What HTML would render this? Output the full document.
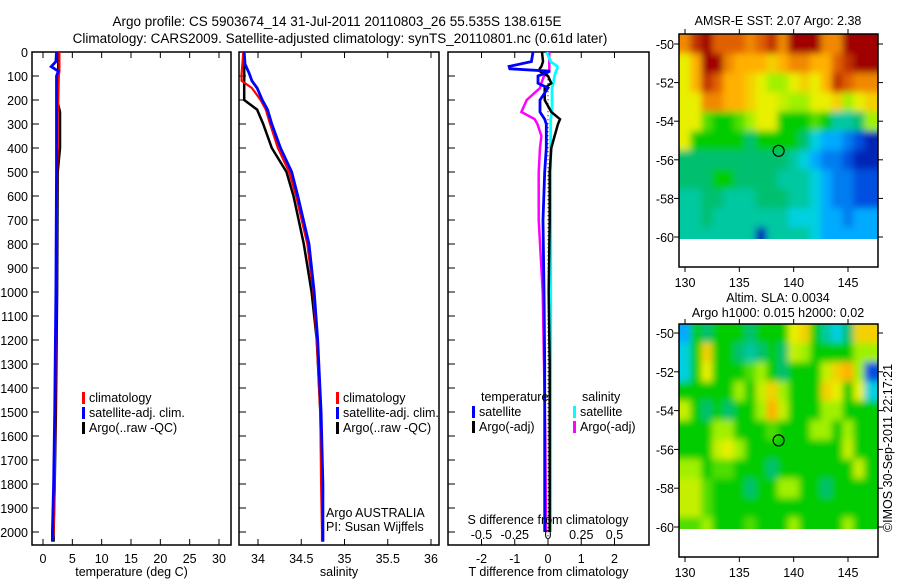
<!DOCTYPE html>
<html><head><meta charset="utf-8">
<style>
html,body{margin:0;padding:0;background:#fff;}
svg{display:block;font-family:"Liberation Sans",sans-serif;}
text{fill:#000;}
</style></head>
<body>
<svg id="chart" width="900" height="580" viewBox="0 0 900 580" xmlns="http://www.w3.org/2000/svg">
<defs>
<filter id="blur" x="-5%" y="-5%" width="110%" height="110%"><feGaussianBlur stdDeviation="3.5"/></filter>
<clipPath id="clipSst"><rect x="679" y="34" width="199" height="205"/></clipPath>
<clipPath id="clipSla"><rect x="679" y="324" width="199" height="205"/></clipPath>
</defs>
<text x="337" y="26" font-size="13.5" text-anchor="middle">Argo profile: CS 5903674_14 31-Jul-2011 20110803_26 55.535S 138.615E</text>
<text x="340" y="43" font-size="13.5" text-anchor="middle">Climatology: CARS2009. Satellite-adjusted climatology: synTS_20110801.nc (0.61d later)</text>
<text x="778" y="25" font-size="12.5" text-anchor="middle">AMSR-E SST: 2.07 Argo: 2.38</text>
<text x="778" y="302" font-size="12.5" text-anchor="middle">Altim. SLA: 0.0034</text>
<text x="778" y="317" font-size="12.5" text-anchor="middle">Argo h1000: 0.015 h2000: 0.02</text>
<text transform="translate(892,448) rotate(-90)" font-size="12.5" text-anchor="middle">©IMOS 30-Sep-2011 22:17:21</text>
<g id="layer"></g>
</svg>
<script>
// ---- depth axis ----
const depthTicks=[0,100,200,300,400,500,600,700,800,900,1000,1100,1200,1300,1400,1500,1600,1700,1800,1900,2000];
// ---- temperature panel ----
const tDepth=[0,40,61,80,100,200,250,400,500,1000,1500,1800,2000,2040];
const tClim=[2.8,2.8,2.8,2.8,2.7,2.6,2.5,2.5,2.4,2.3,2.1,2.0,1.8,1.6];
const tSatAdj=[2.3,2.2,1.4,2.6,2.3,2.3,2.3,2.3,2.3,2.2,2.0,1.8,1.6,1.6];
const tArgo=[2.6,2.6,2.6,2.6,2.4,2.4,2.9,2.9,2.5,2.4,2.2,2.0,1.8,1.8];
const tTicks=[0,5,10,15,20,25,30];
// ---- salinity panel ----
const sDepth=[0,50,90,120,150,200,240,300,400,500,600,800,1000,1200,1500,1800,2000,2040];
const sClim=[33.83,33.82,33.81,33.81,33.93,34.03,34.09,34.14,34.23,34.36,34.44,34.57,34.64,34.68,34.72,34.73,34.74,34.74];
const sSatAdj=[33.84,33.85,33.9,33.93,33.99,34.05,34.11,34.16,34.26,34.39,34.46,34.59,34.65,34.69,34.73,34.75,34.75,34.75];
const sArgo=[33.84,33.84,33.84,33.84,33.84,33.84,33.99,34.06,34.16,34.33,34.41,34.53,34.62,34.68,34.72,34.74,34.75,34.75];
const sTicks=[34,34.5,35,35.5,36];
// ---- difference panel ----
const dDepth=[0,40,60,70,80,100,130,150,200,250,280,300,350,400,500,700,1000,1300,1600,2000];
const dTSat=[-0.45,-0.5,-1.17,-1.15,0.06,-0.3,-0.3,0,-0.24,-0.24,-0.1,-0.05,-0.05,-0.05,-0.1,-0.15,-0.12,-0.1,-0.1,-0.1];
const dTArgo=[-0.18,-0.15,-0.2,-0.25,-0.25,0,0.1,-0.1,-0.1,0.1,0.36,0.3,0.2,0.1,0.05,0.05,0.02,0.05,0.05,0.05];
const dSSat=[-0.01,0.02,0.07,0.07,0.06,0.05,0.04,0.03,0.03,0.03,0.02,0.02,0.02,0.02,0.02,0.02,0.02,0.02,0.02,0.02];
const dSArgo=[0.01,0.01,0.01,0.01,0.01,-0.03,-0.05,-0.06,-0.16,-0.2,-0.1,-0.08,-0.05,-0.06,-0.07,-0.07,-0.04,-0.03,-0.02,-0.015];
const dTTicks=[-2,-1,0,1,2];
const dSTicks=[-0.5,-0.25,0,0.25,0.5];
const dSTickLabels=["-0.5","-0.25","0","0.25","0.5"];
// ---- maps (rows lat -50..-60, cols lon 130..147) ----
const mapLats=[-50,-51,-52,-53,-54,-55,-56,-57,-58,-59,-60];
const mapLons=[130,131,132,133,134,135,136,137,138,139,140,141,142,143,144,145,146,147];
const sstGrid=[
[8.5,9.5,10,9,9,9,8.5,9,9.5,8.5,10,10,10,8.5,8.5,10,10,10],
[7,8,10,10,8.5,8,8,8,7.5,8,8.5,8.5,8,8,9,9.5,10,10],
[7,8,9.5,9,8,8,7.5,7,6,6,7,7.5,7,8,9.5,9,8.5,8.5],
[7,7,8.5,8.5,8,8,7.5,7,7,6.5,6,6,7,7,7.5,6,7,7.5],
[7,7,5.5,5,5,5.5,6,7,7,5,5,5,5.5,5,4,4,4.5,6],
[7,5,5,5,5,5,4.5,5,5,5,5,4.5,3.5,3,3,2.5,2,1.5],
[4.5,4.5,4.5,4.5,4.5,4.5,4.5,4.5,4.5,4.5,4,3.5,3,2.5,2.5,2,1.5,1.5],
[4.5,4.5,4.5,5,5,4.5,4.5,4.5,4.5,4,4,4,3.5,3,2.5,2.5,2,2],
[4,4,4.5,4.5,4,4,4,4.5,4.5,4.5,4,4,3.5,3,2.5,2.5,2,2],
[4,4,4.5,4,4,4,4,4,4,4,3.5,3.5,3.5,3,3,2.5,3,3],
[4,4,4,4,4,4,4,1.5,4,4,4,4,3.5,3,3,3,3,3]];
const slaGrid=[
[3,5,4.5,5,5,5,4.5,5,5,5,7,7.5,5,4,3.5,4.5,7.5,7.5],
[3.5,5,7.5,5,5,4.5,4,4.5,5,4.5,6.5,6,5,5,5,5,6,6],
[3.5,5,7,5,5,5,5.5,6,5,4.5,5,5,5,6.5,7.5,8,6,2],
[5,5,5,5,5,6,5,6.5,7.5,6,5,5,5,7.5,7,5,7,3.5],
[6.5,5,4.5,5,4.5,5,5,6,8,6.5,5,5,5,6,6,5,5,5],
[5,5,5,6,6,5,5,5,5.5,5,5,5,6,6,5,6,5,5],
[5,5,5,6.5,7,6,5,5,5,5,5,5,5,5,5,6.5,5,5],
[6,6,5,5.5,5.5,5,5,5,4.5,5,5,5,5,5,5,5,6.5,5],
[6.5,6.5,5.5,5,5,5,4.5,5,5,6,6,5,5,4.5,5,5,5,5],
[6.5,6.5,5.5,5,5,5,5,5,5,5,5,5,5,5,5,5,5,5],
[5.5,5.5,6,5,5,5,5.5,5,5,5,6,5,5,5,5,6,5,5]];
const mapLatTicks=[-50,-52,-54,-56,-58,-60];
const mapLonTicks=[130,135,140,145];
const argoPos=[138.615,-55.535];

const NS="http://www.w3.org/2000/svg";
const layer=document.getElementById('layer');
function el(tag,attrs,parent){const e=document.createElementNS(NS,tag);for(const k in attrs)e.setAttribute(k,attrs[k]);(parent||layer).appendChild(e);return e;}
function txt(str,x,y,size,anchor,parent){const t=el('text',{x:x,y:y,'font-size':size,'text-anchor':anchor||'start'},parent);t.textContent=str;return t;}

const PT=52, PB=545;
const yD=d=>PT+d*0.24;

function panel(name,x0,x1,xs,ticks,labels,title,showDepthLabels){
  const g=el('g',{});
  
  
  const r=el('rect',{x:x0,y:PT,width:x1-x0,height:PB-PT,fill:'none',stroke:'#000','stroke-width':1.5},g);
  
  
  depthTicks.forEach(d=>{
    el('line',{x1:x0,x2:x0+7,y1:yD(d),y2:yD(d),stroke:'#000'},g);
    if(showDepthLabels){const t=txt(String(d),28,yD(d)+5,12.5,'end',g);
      
      }
  });
  ticks.forEach((v,i)=>{
    const x=xs(v);
    el('line',{x1:x,x2:x,y1:PB,y2:PB-6,stroke:'#000'},g);
    el('line',{x1:x,x2:x,y1:PT,y2:PT+6,stroke:'#000'},g);
    if(labels){const t=txt(labels[i],x,PB+18,12.5,'middle',g);
      
      }
  });
  const tt=txt(title,(x0+x1)/2,PB+31,12.5,'middle',g);
  
  
  return g;
}
function series(name,depths,vals,xs,color,w,dash){
  const pts=depths.map((d,i)=>xs(vals[i]).toFixed(1)+','+yD(d).toFixed(1)).join(' ');
  const p=el('polyline',{points:pts,fill:'none',stroke:color,'stroke-width':w||2.5,'stroke-linejoin':'miter'});
  if(dash)p.setAttribute('stroke-dasharray',dash);
  
  
  return p;
}
function legend(items,x,y){
  items.forEach((it,i)=>{
    const yy=y+i*15;
    const m=el('rect',{x:x,y:yy-10,width:3,height:12,fill:it[1]});
    
    
    const t=txt(it[0],x+7,yy,12.5,'start');
    
    
  });
}

// Temperature
const xT=v=>43+v*(176/30);
panel('temperature-panel',32,231,xT,tTicks,tTicks.map(String),'temperature (deg C)',true);
series('temp-argo-line',tDepth,tArgo,xT,'#000',2.5);
series('temp-climatology-line',tDepth,tClim,xT,'#f00',2.2);
series('temp-satellite-line',tDepth,tSatAdj,xT,'#00f',2.8);
legend([['climatology','#f00'],['satellite-adj. clim.','#00f'],['Argo(..raw -QC)','#000']],82,402);

// Salinity
const xS=v=>258+(v-34)*86.5;
panel('salinity-panel',239,439,xS,sTicks,sTicks.map(String),'salinity',false);
series('sal-argo-line',sDepth,sArgo,xS,'#000',2.5);
series('sal-climatology-line',sDepth,sClim,xS,'#f00',2.2);
series('sal-satellite-line',sDepth,sSatAdj,xS,'#00f',2.8);
legend([['climatology','#f00'],['satellite-adj. clim.','#00f'],['Argo(..raw -QC)','#000']],336,402);
const a1=txt('Argo AUSTRALIA',326,517,12.5,'start');
const a2=txt('PI: Susan Wijffels',326,531,12.5,'start');

// Difference
const xDT=v=>548+v*33.25;
const xDS=v=>548+v*133;
panel('difference-panel',448,649,xDT,dTTicks,dTTicks.map(String),'T difference from climatology',false);
el('line',{x1:xDT(0),x2:xDT(0),y1:yD(80),y2:PB,stroke:'#000','stroke-width':1,'stroke-dasharray':'1,3'});
series('diff-s-argo-line',dDepth,dSArgo,xDS,'#f0f',2.5);
series('diff-s-satellite-line',dDepth,dSSat,xDS,'#0ff',2.8);
series('diff-t-argo-line',dDepth,dTArgo,xDT,'#000',2.5);
series('diff-t-satellite-line',dDepth,dTSat,xDT,'#00f',2.8);
dSTicks.forEach((v,i)=>{const t=txt(dSTickLabels[i],xDS(v),539,12.5,'middle');
  });
const st=txt('S difference from climatology',548,524,12.5,'middle');
const h1=txt('temperature',481,401,12.5,'start');
const h2=txt('salinity',582,401,12.5,'start');
legend([['satellite','#00f'],['Argo(-adj)','#000']],472,416);
legend([['satellite','#0ff'],['Argo(-adj)','#f0f']],573,416);

// Colormap
const cstops=[[1,[0,0,140]],[2,[0,80,224]],[3,[0,170,255]],[3.5,[0,208,224]],[4,[0,200,160]],[4.5,[0,192,112]],[5,[0,204,0]],[6,[160,240,0]],[7,[232,240,0]],[8,[255,176,0]],[9,[224,96,0]],[10,[160,0,0]]];
function cmap(v){
  if(v<=cstops[0][0])return 'rgb('+cstops[0][1]+')';
  for(let i=1;i<cstops.length;i++){if(v<=cstops[i][0]){const a=cstops[i-1],b=cstops[i];const f=(v-a[0])/(b[0]-a[0]);
    return 'rgb('+a[1].map((c,k)=>Math.round(c+(b[1][k]-c)*f)).join(',')+')';}}
  return 'rgb('+cstops[cstops.length-1][1]+')';
}
function map(name,grid,top,lat50y,lat60y,clipId){
  const g=el('g',{});
  
  
  const L=679,R=878,B=top+233;
  const xL=lon=>685+(lon-130)*(163/15);
  const yL=lat=>lat50y+(-50-lat)*((lat60y-lat50y)/10);
  const clipG=el('g',{'clip-path':'url(#'+clipId+')'},g);
  const cells=el('g',{filter:'url(#blur)'},clipG);
  grid.forEach((row,i)=>row.forEach((v,j)=>{
    const lat=mapLats[i],lon=mapLons[j];
    const x0=(j===0)?L-10:xL(lon-0.5),x1=(j===row.length-1)?R+10:xL(lon+0.5);
    const y0=(i===0)?top-10:yL(lat+0.5),y1=(i===mapLats.length-1)?yL(-60.1)+8:yL(lat-0.5);
    const c=el('rect',{x:x0.toFixed(1),y:y0.toFixed(1),width:(x1-x0+0.5).toFixed(1),height:(y1-y0+0.5).toFixed(1),fill:cmap(v)},cells);
    
    
  }));
  el('rect',{x:L,y:top,width:R-L,height:B-top,fill:'none',stroke:'#000','stroke-width':1.5},g);
  mapLatTicks.forEach(lat=>{const y=yL(lat);
    el('line',{x1:L,x2:L-5,y1:y,y2:y,stroke:'#000'},g);el('line',{x1:R,x2:R+5,y1:y,y2:y,stroke:'#000'},g);
    const t=txt(String(lat),674,y+5,12.5,'end',g);});
  mapLonTicks.forEach(lon=>{const x=xL(lon);
    el('line',{x1:x,x2:x,y1:B,y2:B+5,stroke:'#000'},g);el('line',{x1:x,x2:x,y1:top,y2:top-5,stroke:'#000'},g);
    const t=txt(String(lon),x,B+20,12.5,'middle',g);});
  const m=el('circle',{cx:xL(argoPos[0]),cy:yL(argoPos[1]),r:5.5,fill:'none',stroke:'#000','stroke-width':1.2},g);
  
  
}
map('sst-map',sstGrid,34,44,237,'clipSst');
map('sla-map',slaGrid,324,333,527,'clipSla');
</script>
</body></html>
